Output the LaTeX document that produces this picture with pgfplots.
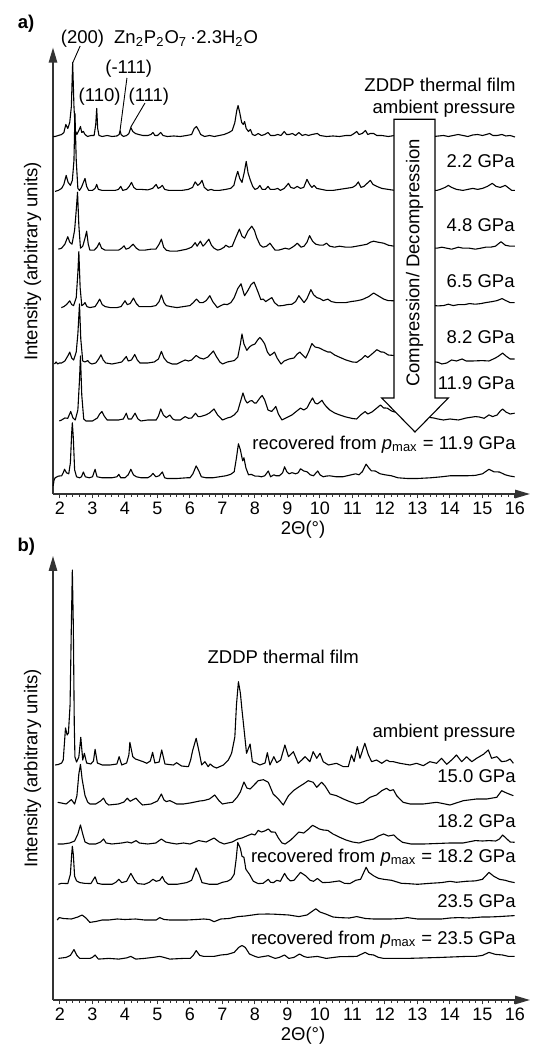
\documentclass[border=0pt]{standalone}
\usepackage{fontspec}
\setmainfont{Liberation Sans}
\usepackage{pgfplots}
\pgfplotsset{compat=1.18}
\usetikzlibrary{arrows.meta}
\newcommand{\lf}{\fontsize{9.25}{11}\selectfont}
\newcommand{\tf}{\fontsize{9}{10}\selectfont}
\newcommand{\pmax}{\textit{p}\textsubscript{max}}
\pgfplotsset{
  panel/.style={
    scale only axis, width=238.5pt, xmin=1.785, xmax=16.462, ymin=0,
    axis lines=left,
    axis line style={black!80, line width=0.75pt, -{Triangle[length=7.5pt,width=4.2pt]}},
    xtick={2,...,16}, minor x tick num=4, ytick=\empty,
    tick align=outside, major tick length=2.2pt, minor tick length=1.3pt,
    tick style={black!80, line width=0.5pt},
    xticklabel style={font=\tf, yshift=1.8pt},
    /pgf/number format/assume math mode=true,
    clip=false,
  },
  tr/.style={black, line width=0.55pt, line join=round, mark=none},
}
\begin{document}
\begin{tikzpicture}
\path[use as bounding box] (0,0) rectangle (266.5pt,522pt);
% ---------------- panel a ----------------
\begin{axis}[panel, at={(26.5pt,275pt)}, anchor=south west, height=223.2pt, ymax=446.4]
% ambient
\addplot[tr, y filter/.expression={y+357.5}] coordinates {(1.79,0) (1.85,0) (1.95,1) (2.05,2) (2.12,4) (2.18,12) (2.24,8) (2.30,14) (2.35,30) (2.39,74) (2.43,30) (2.47,6) (2.52,2) (2.58,6) (2.63,10) (2.67,4) (2.72,5) (2.77,2) (2.85,0) (2.95,1) (3.05,1) (3.10,12) (3.13,28) (3.16,8) (3.20,1) (3.30,0) (3.45,1) (3.6,0) (3.75,0.5) (3.82,2) (3.85,6) (3.88,2) (3.95,0) (4.05,1) (4.12,3) (4.18,9) (4.24,5) (4.32,3) (4.42,2) (4.55,1) (4.7,1) (4.8,2) (4.86,4) (4.92,1) (5.0,1) (5.1,4) (5.17,1) (5.3,0) (5.5,0.5) (5.7,0) (5.9,1) (6.05,2) (6.13,8) (6.2,10) (6.27,6) (6.33,2) (6.45,0) (6.6,1) (6.75,0) (6.9,1) (7.05,2) (7.2,4) (7.3,6) (7.38,14) (7.44,26) (7.48,31) (7.53,24) (7.59,14) (7.64,12) (7.68,15) (7.73,8) (7.8,5) (7.86,7) (7.92,2) (8.0,1) (8.1,3) (8.2,1) (8.3,2) (8.4,4) (8.48,1) (8.6,1) (8.7,2) (8.8,1) (8.9,5) (8.97,2) (9.05,2) (9.15,3) (9.25,1) (9.35,4) (9.45,1) (9.55,2) (9.65,1) (9.75,2) (9.92,3) (10.0,1) (10.2,0) (10.4,0.5) (10.6,0) (10.8,1) (10.95,1) (11.05,3) (11.13,5) (11.2,2) (11.3,3) (11.4,6) (11.47,2) (11.55,3) (11.65,3) (11.75,1) (11.9,1) (12.1,0) (12.3,1) (12.6,0) (13.0,1) (13.5,0) (13.65,0.5) (13.8,1) (13.95,0) (14.1,1) (14.25,2) (14.4,1) (14.55,0) (14.7,1.5) (14.85,2) (15.0,1) (15.12,2) (15.22,3) (15.32,1) (15.45,1) (15.6,2) (15.72,0.5) (15.85,1) (16.0,-0.5)};
% 2.2 GPa
\addplot[tr, y filter/.expression={y+303.6}] coordinates {(1.85,-1) (1.95,0) (2.05,2) (2.12,6) (2.19,15) (2.25,8) (2.32,5) (2.38,10) (2.43,30) (2.46,77) (2.50,30) (2.55,2) (2.6,0) (2.66,3) (2.72,8) (2.77,12) (2.82,4) (2.88,0) (3.0,0) (3.08,2) (3.13,6) (3.18,1) (3.3,0) (3.5,0) (3.7,0) (3.8,1) (3.87,4) (3.93,0) (4.05,1) (4.13,4) (4.2,8) (4.27,3) (4.35,1) (4.5,1) (4.7,0.5) (4.85,2) (4.96,6) (5.02,2) (5.08,3) (5.15,5) (5.22,1) (5.35,0) (5.55,0) (5.75,0) (5.95,1) (6.08,3) (6.16,8.5) (6.24,5) (6.31,7) (6.37,10) (6.44,3) (6.55,0) (6.65,1) (6.74,0) (6.9,0) (7.1,1) (7.25,2) (7.35,5) (7.42,14) (7.47,19) (7.53,12) (7.6,8) (7.67,18) (7.73,29) (7.79,17) (7.86,10) (7.93,4) (8.0,1) (8.08,2) (8.15,5) (8.22,1) (8.32,1) (8.4,4) (8.47,1) (8.6,1) (8.7,2) (8.78,0) (8.9,2) (9.03,7) (9.1,3) (9.2,2) (9.3,4) (9.4,2) (9.5,3) (9.6,11) (9.68,6) (9.75,3) (9.82,5) (9.9,2) (10.05,1) (10.2,0) (10.4,0) (10.6,1) (10.8,2) (11.0,3) (11.1,5) (11.18,8.5) (11.26,3) (11.35,4) (11.45,7) (11.55,10) (11.63,6) (11.75,4) (11.9,2) (12.1,1) (12.3,0) (12.8,0) (13.6,0) (13.7,1) (13.85,3) (13.95,5) (14.05,3) (14.2,1) (14.4,0) (14.55,1) (14.7,2) (14.85,1) (15.0,2) (15.15,4) (15.3,7) (15.42,4) (15.55,3) (15.7,5) (15.82,2) (15.9,0) (16.0,0)};
% 4.8 GPa
\addplot[tr, y filter/.expression={y+243.8}] coordinates {(1.95,1) (2.05,2) (2.15,6) (2.24,13.5) (2.3,8) (2.37,6) (2.45,20) (2.5,40) (2.54,58) (2.58,25) (2.63,2) (2.7,4) (2.77,12) (2.82,19) (2.87,6) (2.92,0) (3.05,0) (3.14,3) (3.21,7.5) (3.28,2) (3.39,0) (3.6,0) (3.8,0) (3.9,2) (3.97,4.4) (4.03,1) (4.12,2) (4.25,6) (4.35,2) (4.44,0) (4.6,0) (4.8,1) (4.95,1) (5.05,6) (5.12,11) (5.19,3) (5.27,0) (5.4,-1) (5.59,-1) (5.75,0) (5.9,1) (6.05,3) (6.16,7.5) (6.22,4) (6.32,9) (6.4,4) (6.46,6) (6.58,11) (6.66,5) (6.74,2) (6.85,0) (6.95,1) (7.05,3) (7.1,5) (7.2,3) (7.3,4) (7.4,12) (7.52,21) (7.6,14) (7.68,12) (7.78,19) (7.9,24) (7.98,20) (8.06,12) (8.16,5) (8.25,3) (8.36,4) (8.46,7) (8.55,3) (8.62,0) (8.72,0) (8.83,1) (8.93,2) (9.05,1) (9.2,4) (9.3,7) (9.42,3) (9.51,4) (9.6,8) (9.68,14.6) (9.77,9) (9.87,6) (10.0,5) (10.1,5) (10.2,7) (10.3,4) (10.45,3) (10.6,4) (10.8,3) (10.95,3) (11.13,4) (11.3,5) (11.45,6) (11.55,8) (11.65,9) (11.78,8) (11.96,7) (12.1,5) (12.28,4) (12.8,3) (13.6,2) (13.75,3) (13.9,2) (14.05,1) (14.26,3) (14.4,2) (14.6,2) (14.78,1) (14.95,2) (15.1,3) (15.25,3) (15.4,4) (15.57,8.5) (15.7,5) (15.85,4) (16.0,4)};
% 6.5 GPa
\addplot[tr, y filter/.expression={y+186.4}] coordinates {(2.04,0) (2.12,1) (2.2,3) (2.3,6.8) (2.36,3) (2.42,2) (2.5,10) (2.55,35) (2.58,56) (2.62,20) (2.67,2) (2.72,3) (2.77,5) (2.83,1) (2.92,0) (3.08,1) (3.16,5) (3.22,8.5) (3.3,3) (3.39,1) (3.55,0) (3.75,0) (3.88,1) (4.0,6.8) (4.07,3) (4.16,4) (4.26,9.5) (4.35,4) (4.44,1) (4.6,1) (4.8,1) (4.95,2) (5.05,6) (5.12,12.6) (5.2,5) (5.27,2) (5.4,1) (5.6,0) (5.8,1) (6.0,2) (6.1,5) (6.2,8.5) (6.3,5) (6.4,5) (6.5,7) (6.61,11.9) (6.7,6) (6.84,0) (6.95,2) (7.05,3.4) (7.15,3) (7.26,5) (7.36,10) (7.47,19) (7.57,23.8) (7.64,16) (7.68,11.9) (7.78,17) (7.88,23) (7.97,25.5) (8.04,20) (8.1,15) (8.18,8) (8.25,8.5) (8.33,6) (8.42,8) (8.52,10) (8.6,5) (8.72,1.7) (8.85,2) (9.0,3) (9.14,3.4) (9.25,6) (9.35,11.9) (9.44,8) (9.51,5) (9.6,9) (9.72,18) (9.8,13) (9.9,10) (10.0,9) (10.1,7) (10.24,8.5) (10.35,6) (10.5,5) (10.6,5) (10.8,5) (10.95,6) (11.13,6.8) (11.3,8) (11.5,11) (11.65,14.6) (11.78,12) (11.96,8.5) (12.1,7) (12.28,6.8) (12.8,4) (13.63,1.7) (13.8,2) (13.95,3.4) (14.1,2) (14.26,3) (14.45,3) (14.6,4) (14.78,3.4) (14.95,4) (15.1,5) (15.3,6) (15.45,7) (15.6,9) (15.72,7) (15.85,5) (15.99,5)};
% 8.2 GPa
\addplot[tr, y filter/.expression={y+130}] coordinates {(1.83,0) (1.88,2) (1.93,0) (1.98,1) (2.05,1) (2.15,3) (2.24,8) (2.3,11.9) (2.36,6) (2.42,4) (2.5,12) (2.55,30) (2.6,60) (2.64,25) (2.7,3) (2.77,2) (2.85,3.4) (2.92,1) (2.98,0) (3.1,1) (3.19,5) (3.26,9.2) (3.33,4) (3.41,1) (3.6,0) (3.76,1) (3.9,2) (4.04,7.5) (4.1,3) (4.2,4) (4.3,9.5) (4.38,4) (4.46,1) (4.7,1) (4.9,2) (5.03,5) (5.12,12.6) (5.2,6) (5.3,2) (5.45,0) (5.6,0) (5.72,2) (5.85,4) (5.95,3) (6.05,4) (6.19,8.5) (6.3,6) (6.42,5) (6.55,7) (6.72,13) (6.82,7) (6.92,2) (7.0,0) (7.15,2) (7.3,3) (7.36,3.4) (7.47,6.8) (7.55,20) (7.6,30) (7.66,20) (7.75,13.6) (7.83,17) (7.9,18.7) (8.0,20) (8.08,24) (8.15,26.5) (8.22,24) (8.3,20) (8.38,12) (8.46,8.5) (8.53,10) (8.6,11.9) (8.68,6) (8.8,0) (8.9,3) (9.05,5) (9.2,6) (9.3,10) (9.38,11.9) (9.48,8.5) (9.56,6) (9.65,12) (9.75,20.4) (9.85,17) (9.98,16) (10.1,14) (10.24,12) (10.32,12) (10.45,9) (10.6,6.8) (10.8,4) (11.0,2) (11.13,1.7) (11.28,5) (11.39,8.5) (11.47,6.5) (11.6,10) (11.75,14.3) (11.88,12) (11.96,11.9) (12.1,9) (12.28,8.5) (12.8,5) (13.63,1.7) (13.75,0) (13.9,1) (14.05,4) (14.2,3) (14.37,5) (14.5,3) (14.7,3) (14.99,3.4) (15.2,3) (15.4,6) (15.5,8) (15.62,10.9) (15.72,8) (15.85,5) (15.99,5)};
% 11.9 GPa
\addplot[tr, y filter/.expression={y+74}] coordinates {(1.98,-1) (2.05,0) (2.15,2) (2.24,1.7) (2.33,8.5) (2.4,2) (2.47,0) (2.55,10) (2.6,40) (2.63,64) (2.67,25) (2.73,1) (2.8,-1) (2.9,-1) (3.0,-1) (3.15,2) (3.22,6) (3.29,8.5) (3.36,4) (3.45,0) (3.6,0) (3.8,0) (3.95,1) (4.04,6.8) (4.1,1) (4.2,1) (4.31,6.8) (4.4,1) (4.49,-1) (4.7,0) (4.96,0) (5.03,4) (5.1,11) (5.18,5) (5.27,2.4) (5.38,5) (5.47,1) (5.54,0) (5.7,0) (5.85,3.4) (5.95,1.7) (6.05,2) (6.17,6.8) (6.25,3.4) (6.32,3.4) (6.48,5) (6.6,7) (6.74,11) (6.85,5) (7.0,0) (7.15,2) (7.26,3) (7.36,5.1) (7.47,9) (7.55,18) (7.63,27) (7.7,20) (7.76,17) (7.85,19) (7.91,19.4) (7.98,17) (8.04,17) (8.15,22) (8.22,24.5) (8.3,20) (8.4,10) (8.51,8.5) (8.58,11) (8.64,13.6) (8.72,6) (8.83,0) (8.95,2) (9.14,5.1) (9.25,8) (9.4,11.9) (9.5,10) (9.6,12) (9.68,17) (9.77,22) (9.85,17) (9.92,16) (10.0,18) (10.06,19.7) (10.13,16) (10.19,13.6) (10.3,10) (10.45,7) (10.6,5.1) (10.8,3) (11.0,1.5) (11.13,1) (11.25,5) (11.39,8.5) (11.47,6) (11.6,8) (11.75,12) (11.86,15) (11.96,12) (12.07,11.9) (12.2,9) (12.3,8) (12.8,5) (13.5,2) (13.63,1) (13.8,0) (14.0,1) (14.26,0) (14.5,2) (14.78,3.4) (14.9,3) (15.05,1.7) (15.2,5.1) (15.31,3.4) (15.45,5) (15.55,9) (15.62,11) (15.72,8) (15.85,6) (15.99,6.8)};
% recovered from 11.9 GPa
\addplot[tr, y filter/.expression={y+16.2}] coordinates {(1.79,-8) (1.82,-2) (1.85,0) (1.95,1.7) (2.05,2) (2.1,5) (2.14,8.5) (2.2,5) (2.27,4) (2.32,15) (2.36,45) (2.38,55) (2.41,40) (2.45,8) (2.51,1) (2.6,0) (2.66,1) (2.72,5.8) (2.78,1) (2.9,0) (3.0,1) (3.08,8.5) (3.14,1) (3.3,0) (3.6,0) (3.75,1) (3.81,3.4) (3.87,0) (4.0,0) (4.1,3) (4.18,8.5) (4.26,3) (4.35,1) (4.5,0) (4.7,0) (4.8,2) (4.86,4.4) (4.95,1) (5.05,2) (5.15,5.8) (5.22,0) (5.3,-0.7) (5.6,-0.7) (5.9,0) (6.0,0) (6.09,4) (6.19,11.9) (6.27,7) (6.35,1) (6.5,0) (6.7,0) (6.9,1) (7.1,2) (7.25,3.4) (7.36,6) (7.43,20) (7.49,34) (7.55,28) (7.62,17) (7.66,20) (7.72,10) (7.8,3) (7.89,3.4) (8.0,1.7) (8.1,1.7) (8.2,1) (8.3,2) (8.41,6.8) (8.48,1) (8.58,3) (8.65,2) (8.75,2) (8.85,5) (8.91,11) (8.98,6) (9.05,4) (9.14,5.1) (9.25,4) (9.33,5) (9.4,9) (9.5,6.8) (9.6,6) (9.7,3) (9.8,2) (9.93,6.8) (10.0,3) (10.1,1) (10.19,1.7) (10.3,2) (10.5,1) (10.7,1) (10.9,2.5) (11.1,4) (11.2,3) (11.3,6) (11.42,13.6) (11.5,10) (11.58,7) (11.7,6.8) (11.85,4) (12.0,3) (12.2,2) (12.4,0) (12.69,-0.7) (13.0,-0.7) (13.4,0) (13.74,1) (14.0,2) (14.2,2) (14.5,2) (14.78,2.4) (15.0,4) (15.2,8.5) (15.35,6) (15.52,5.8) (15.7,3) (15.85,1.7) (15.99,1)};
% compression arrow
\draw[black, line width=0.55pt, fill=white] (axis cs:12.277,374.7) -- (axis cs:13.538,374.7) -- (axis cs:13.538,96) -- (axis cs:13.948,96) -- (axis cs:12.923,62) -- (axis cs:11.898,96) -- (axis cs:12.277,96) -- cycle;
\node[rotate=90, font=\lf, inner sep=0pt] at (axis cs:12.908,231) {Compression/ Decompression};
% labels
\begin{scope}[every node/.style={font=\lf, inner sep=0pt, anchor=base east}]
\node at (axis cs:16.03,402.3) {ZDDP thermal film};
\node at (axis cs:16.03,380.7) {ambient pressure};
\node at (axis cs:16.0,326.5) {2.2 GPa};
\node at (axis cs:16.0,262.3) {4.8 GPa};
\node at (axis cs:16.0,206.7) {6.5 GPa};
\node at (axis cs:16.0,150.7) {8.2 GPa};
\node at (axis cs:16.0,104) {11.9 GPa};
\node at (axis cs:16.03,44.4) {recovered from \pmax{} = 11.9 GPa};
\end{scope}
\begin{scope}[every node/.style={font=\lf, inner sep=0pt, anchor=base west}]
\node at (axis cs:2.015,450.5) {(200)};
\node at (axis cs:3.655,450.5) {Zn\textsubscript{2}P\textsubscript{2}O\textsubscript{7}\,·2.3H\textsubscript{2}O};
\node at (axis cs:3.385,420.7) {(-111)};
\node at (axis cs:2.563,392.3) {(110)};
\node at (axis cs:4.10,392.3) {(111)};
\end{scope}
\draw[black, line width=0.45pt] (axis cs:2.62,448) -- (axis cs:2.39,431);
\draw[black, line width=0.45pt] (axis cs:4.06,416) -- (axis cs:3.85,364);
\draw[black, line width=0.45pt] (axis cs:4.615,391) -- (axis cs:4.18,367);
\node[font=\lf\bfseries, inner sep=0pt] at (axis cs:0.954,470) {a)};
\node[font=\lf, rotate=90, inner sep=0pt] at (axis cs:1.154,232.5) {Intensity (arbitrary units)};
\node[font=\lf, inner sep=0pt, anchor=base] at (axis cs:9.48,-40.5) {2Θ(°)};
\end{axis}
% ---------------- panel b ----------------
\begin{axis}[panel, at={(26.5pt,22pt)}, anchor=south west, height=222pt, ymax=444]
% ambient
\addplot[tr, y filter/.expression={y+235}] coordinates {(1.85,0) (1.95,0.5) (2.05,2) (2.1,5) (2.17,37) (2.22,30) (2.26,32) (2.31,60) (2.35,140) (2.38,195) (2.41,140) (2.44,40) (2.46,8) (2.51,3) (2.58,8) (2.64,27.7) (2.7,5) (2.75,11.7) (2.82,2) (2.95,1) (3.03,4) (3.08,15.7) (3.15,2) (3.3,0) (3.54,0) (3.75,1) (3.82,8.3) (3.9,0) (4.05,2) (4.12,10) (4.15,22.7) (4.24,8.3) (4.32,6) (4.41,5) (4.56,3.3) (4.67,1.7) (4.78,4) (4.85,12.7) (4.92,2) (5.05,3) (5.13,15) (5.23,1) (5.35,0.5) (5.49,0) (5.59,2.3) (5.74,-1) (5.95,-1.7) (6.02,5) (6.08,14.3) (6.19,26.7) (6.29,11.7) (6.36,0) (6.46,3.3) (6.56,-1.7) (6.62,1) (6.72,-1.7) (6.82,-3) (7.03,0) (7.18,5) (7.28,11.7) (7.38,28) (7.43,60) (7.49,83.3) (7.55,72) (7.6,55) (7.66,36.7) (7.74,11.7) (7.85,21) (7.92,3.3) (8.05,1.7) (8.15,0) (8.31,2) (8.38,12.3) (8.46,0) (8.58,8.3) (8.67,2.3) (8.79,5) (8.92,20) (9.03,8.3) (9.18,13.3) (9.33,1.7) (9.44,5) (9.54,8.3) (9.69,3.3) (9.79,13.3) (9.9,6.7) (10.0,11.7) (10.1,3.3) (10.26,0) (10.51,1.7) (10.72,-1.7) (10.87,-1.7) (10.97,10) (11.05,3.3) (11.15,18.3) (11.23,6.7) (11.38,21.7) (11.49,10) (11.59,3.3) (11.74,5) (11.9,1.7) (12.05,5) (12.15,3.3) (12.26,3.3) (12.46,1.7) (12.77,0) (12.97,1.7) (13.18,-0.7) (13.38,3.3) (13.59,1.7) (13.74,6.7) (13.9,0.7) (14.05,5) (14.2,10) (14.36,3.3) (14.51,8.3) (14.67,3.3) (14.82,6.7) (15.03,10.7) (15.18,15) (15.28,6.7) (15.44,8.3) (15.59,3.3) (15.74,4) (15.85,6) (15.95,1.7)};
% 15.0 GPa
\addplot[tr, y filter/.expression={y+196}] coordinates {(1.93,1.7) (2.04,1) (2.19,0) (2.35,4.4) (2.45,0) (2.52,8) (2.58,30) (2.63,39.6) (2.68,25) (2.77,8.5) (2.85,2) (2.92,0) (3.1,0) (3.25,3) (3.34,5.8) (3.42,1) (3.5,-1) (3.8,0) (3.97,2) (4.07,5.8) (4.16,2.7) (4.23,4) (4.34,5.8) (4.44,2) (4.54,-1) (4.8,0) (5.0,3) (5.12,10) (5.2,4) (5.27,2.4) (5.38,3.4) (5.5,1.5) (5.59,0) (5.8,0) (6.0,1) (6.11,1.7) (6.3,3) (6.42,3.4) (6.6,5) (6.76,9) (6.9,3) (7.0,0) (7.15,1) (7.31,1.7) (7.45,6.8) (7.55,12) (7.66,22) (7.75,16) (7.85,15) (7.95,18.3) (8.1,23.3) (8.26,24.3) (8.41,21.7) (8.56,10) (8.72,5) (8.87,-1) (9.03,8.3) (9.18,13.3) (9.33,16.7) (9.49,20) (9.64,23.3) (9.79,21.7) (9.9,16.7) (10.05,21.7) (10.15,18.3) (10.31,10) (10.51,8.3) (10.72,5) (10.92,2.3) (11.13,0) (11.33,1.7) (11.54,6.7) (11.74,9) (11.9,13.3) (12.05,15.7) (12.15,13.3) (12.26,14.3) (12.36,8.3) (12.56,1.7) (12.77,0) (13.18,0) (13.59,1.7) (14.0,-1) (14.41,3.3) (14.82,5) (15.13,5) (15.44,6.7) (15.59,13.3) (15.74,11) (15.95,8.3)};
% 18.2 GPa
\addplot[tr, y filter/.expression={y+156}] coordinates {(1.93,0) (2.1,0) (2.3,1) (2.45,3) (2.55,10) (2.63,19) (2.7,10) (2.77,2) (2.9,0) (3.1,0) (3.25,2) (3.34,5) (3.42,1) (3.6,0) (3.9,1) (4.07,2) (4.2,1) (4.34,3.4) (4.44,1) (4.7,0) (4.95,1) (5.12,5) (5.25,2) (5.4,1) (5.59,0) (5.8,1) (6.0,0) (6.27,3.4) (6.5,2) (6.74,6) (6.9,2) (7.05,0) (7.3,2) (7.47,5) (7.6,6) (7.78,8.5) (7.9,10) (8.0,9) (8.1,13.6) (8.2,12) (8.3,13) (8.41,15) (8.5,12) (8.62,11.9) (8.72,6) (8.83,1) (8.93,0) (9.1,4) (9.35,11.9) (9.5,11) (9.65,15) (9.77,18.7) (9.87,17) (9.98,15) (10.1,14) (10.24,13.6) (10.4,10) (10.6,6.8) (10.8,4) (11.0,2) (11.2,1) (11.44,3.4) (11.65,5) (11.8,8) (11.96,10) (12.1,8) (12.27,9) (12.4,5) (12.54,1.7) (12.8,0) (13.2,0) (13.6,0.5) (14.0,1) (14.4,1) (14.78,3.4) (15.0,3) (15.2,3.4) (15.41,3) (15.52,5) (15.62,9) (15.72,6) (15.85,2) (15.99,1.7)};
% recovered from 18.2 GPa
\addplot[tr, y filter/.expression={y+115.7}] coordinates {(1.95,0) (2.05,1) (2.24,0.7) (2.32,10) (2.36,30) (2.38,38) (2.41,30) (2.45,8) (2.51,3.4) (2.61,1.7) (2.75,1) (2.95,0.7) (3.08,7.5) (3.15,1) (3.3,0) (3.6,0) (3.72,2) (3.81,5) (3.9,1.7) (4.05,3) (4.18,10.9) (4.3,4) (4.39,0.7) (4.6,0) (4.75,2) (4.86,5) (4.96,3) (5.07,4) (5.15,7.8) (5.22,3) (5.33,0) (5.6,0) (5.9,1.7) (6.05,4) (6.19,16.3) (6.28,10) (6.37,1.7) (6.6,0) (6.84,0) (7.0,2) (7.15,3) (7.26,5) (7.36,10) (7.42,25) (7.47,41.8) (7.55,36) (7.6,28) (7.66,27) (7.72,15) (7.83,10) (7.95,3) (8.1,0.7) (8.25,1) (8.41,5) (8.48,2) (8.57,1.7) (8.67,4) (8.78,3) (8.91,10.9) (9.0,6) (9.09,3.4) (9.2,4) (9.4,11.9) (9.56,8.5) (9.7,4) (9.8,3) (9.92,5.8) (10.08,1.7) (10.3,2) (10.6,3.4) (10.75,1) (10.92,0.7) (11.1,4) (11.25,5) (11.42,17) (11.5,12) (11.65,8.5) (11.8,6) (11.96,5) (12.2,4) (12.5,1) (12.69,0.7) (13.0,0) (13.4,1) (13.74,1.7) (14.0,3) (14.2,2) (14.5,3) (14.78,3.4) (15.0,5) (15.2,11.9) (15.35,8) (15.52,5) (15.7,4) (15.83,2.7) (15.99,1.7)};
% 23.5 GPa
\addplot[tr, y filter/.expression={y+80}] coordinates {(1.91,0) (1.98,2.4) (2.1,1.5) (2.35,1) (2.55,3) (2.68,5) (2.8,2) (2.92,-2.4) (3.1,-1.5) (3.3,0) (3.5,0) (3.76,1) (4.0,0.5) (4.33,1) (4.6,0) (4.96,0) (5.07,2.4) (5.2,0.5) (5.38,0) (5.9,0) (6.2,0.5) (6.42,1) (6.6,0.5) (6.74,-1.7) (6.95,1) (7.2,1.5) (7.47,3.4) (7.7,4) (8.1,5.8) (8.4,6) (8.6,5.8) (9.04,5) (9.35,3.4) (9.6,5) (9.87,11.2) (10.0,8) (10.19,5.8) (10.4,3) (10.6,2.4) (10.9,2) (11.13,3.4) (11.4,1.5) (11.65,1) (12.17,1) (12.5,1.5) (12.69,2.4) (13.0,1) (13.74,1) (14.0,2) (14.26,2.4) (14.6,2) (14.99,3) (15.2,3) (15.5,3.4) (15.99,4.4)};
% recovered from 23.5 GPa
\addplot[tr, y filter/.expression={y+41.6}] coordinates {(1.95,0) (2.19,1) (2.32,3) (2.43,8.8) (2.52,3) (2.61,0) (2.92,0) (3.0,1) (3.08,3.4) (3.18,-0.7) (3.5,0) (3.81,-0.7) (4.05,0.5) (4.18,2) (4.33,-0.7) (4.6,0) (4.86,1) (5.07,2) (5.2,1) (5.38,-0.7) (5.8,0) (6.01,0) (6.1,3) (6.19,7.8) (6.3,3) (6.42,2) (6.6,2) (6.74,2) (6.95,3.4) (7.15,4) (7.36,6) (7.5,11) (7.6,12.9) (7.7,11) (7.83,4.4) (8.0,2) (8.1,1) (8.41,2.7) (8.62,0) (8.75,1) (8.91,3.4) (9.04,0) (9.2,1) (9.37,4.4) (9.5,2) (9.61,1) (9.92,2) (10.19,0) (10.6,1.7) (11.13,2) (11.39,6) (11.5,4) (11.65,3.4) (11.8,1) (11.96,0) (12.5,0) (12.69,0) (13.74,1) (14.5,2) (14.78,2) (15.0,3) (15.2,6) (15.4,4) (15.62,3.4) (15.8,2) (15.99,2)};
\node[font=\lf, inner sep=0pt, anchor=base west] at (axis cs:6.53,336) {ZDDP thermal film};
\begin{scope}[every node/.style={font=\lf, inner sep=0pt, anchor=base east}]
\node at (axis cs:16.03,262) {ambient pressure};
\node at (axis cs:16.03,217) {15.0 GPa};
\node at (axis cs:16.03,172) {18.2 GPa};
\node at (axis cs:16.03,137.7) {recovered from \pmax{} = 18.2 GPa};
\node at (axis cs:16.03,92) {23.5 GPa};
\node at (axis cs:16.03,55.5) {recovered from \pmax{} = 23.5 GPa};
\end{scope}
\node[font=\lf\bfseries, inner sep=0pt] at (axis cs:0.966,453) {b)};
\node[font=\lf, rotate=90, inner sep=0pt] at (axis cs:1.154,231.5) {Intensity (arbitrary units)};
\node[font=\lf, inner sep=0pt, anchor=base] at (axis cs:9.48,-40.5) {2Θ(°)};
\end{axis}
\end{tikzpicture}
\end{document}
